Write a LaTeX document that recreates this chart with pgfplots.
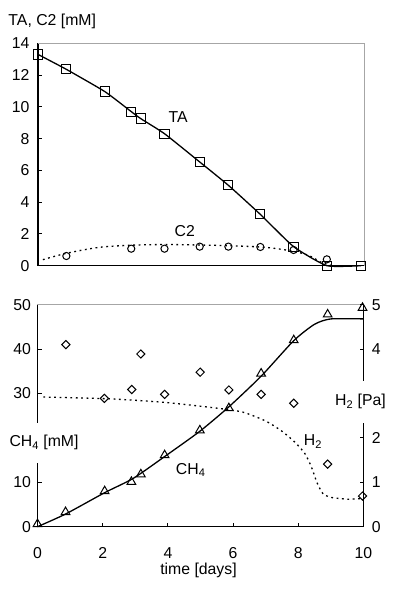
\documentclass[border=0pt]{standalone}
\usepackage{pgfplots}
\pgfplotsset{compat=1.18}
\usepackage{fontspec}
\setmainfont{Liberation Sans}
\begin{document}
\fontsize{15.8}{18}\selectfont
\begin{tikzpicture}[x=1pt,y=1pt]
\useasboundingbox (0,0) rectangle (400,595);
\pgfplotsset{
  every axis/.append style={font=\fontsize{15.8}{18}\selectfont},
  tick label style={font=\fontsize{15.8}{18}\selectfont},
  /pgf/number format/assume math mode=true,
  myax/.style={
    scale only axis, width=326pt, height=222.4pt,
    xmin=0, xmax=10,
    tick align=inside, major tick length=4pt,
    tick style={line width=0.9pt, black},
    axis line style={-, line width=1.2pt},
    clip=false,
  },
}
% ---------- top panel ----------
\begin{axis}[myax,
  at={(38pt,329.3pt)}, anchor=south west,
  ymin=0, ymax=14,
  axis lines*=left,
  xtick=\empty,
  ytick={0,2,...,14},
  yticklabel style={xshift=-3pt},
]
\draw[gray!70, line width=0.7pt] (rel axis cs:0,1) -- (rel axis cs:1,1) -- (rel axis cs:1,0);
\addplot[black, line width=1.3pt, dash pattern=on 1.8pt off 3.6pt, smooth, tension=0.5] coordinates {
 (0.15,0.38) (0.87,0.78) (1.9,1.16) (3,1.3) (4,1.33) (5,1.3) (6,1.25) (7,1.15) (7.8,0.92) (8.3,0.65) (8.7,0.2) (9.0,0.02)
};
\addplot[black, line width=1.3pt, smooth, tension=0.3, mark=square, mark size=4.6pt, mark options={fill=white, line width=1pt, solid}] coordinates {
 (0,13.3) (0.87,12.36) (2.05,10.96) (2.86,9.70) (3.15,9.26) (3.88,8.31) (4.96,6.53) (5.84,5.06) (6.82,3.23) (7.84,1.20) (8.86,0) (9.91,0)
};
\addplot[black, only marks, mark=o, mark size=3.6pt, mark options={fill=white, line width=1pt}] coordinates {
 (0.87,0.61) (2.86,1.07) (3.88,1.07) (4.96,1.20) (5.84,1.20) (6.82,1.18) (7.84,0.99) (8.86,0.40)
};
\node at (axis cs:4.3,9.35) {TA};
\node at (axis cs:4.5,2.15) {C2};
\end{axis}
% ---------- bottom panel ----------
\begin{axis}[myax,
  at={(37.5pt,68.3pt)}, anchor=south west,
  height=222pt,
  ymin=0, ymax=50,
  axis lines*=left,
  xtick={0,2,...,10},
  ytick={0,10,30,40,50},
  xticklabel style={yshift=-15pt},
  yticklabel style={xshift=-1pt},
]
\draw[gray!70, line width=0.7pt] (rel axis cs:0,1) -- (rel axis cs:1,1);
\addplot[black, line width=1.3pt, smooth, tension=0.4] coordinates {
 (0,0) (0.86,2.85) (2.06,7.66) (2.94,10.9) (3.9,15.8) (4.98,21.5) (5.87,27.0) (6.86,33.9) (7.86,41.9) (8.5,45.6) (9.0,46.8) (10,46.8)
};
\addplot[black, only marks, mark=triangle, mark size=5pt, mark options={fill=white, line width=1pt}] coordinates {
 (0,0.6) (0.86,3.3) (2.06,8.0) (2.88,10.1) (3.17,11.8) (3.9,16.1) (4.98,21.7) (5.87,26.7) (6.86,34.5) (7.86,42.0) (8.9,47.8) (9.97,49.3)
};
\node at (axis cs:4.7,12.8) {CH\textsubscript{4}};
\end{axis}
\begin{axis}[myax,
  at={(37.5pt,68.3pt)}, anchor=south west,
  height=222pt,
  ymin=0, ymax=5,
  axis y line*=right, axis x line=none,
  ytick={0,1,2,4,5},
  yticklabel style={xshift=3pt},
]
\addplot[black, line width=1.3pt, dash pattern=on 1.8pt off 3.6pt, smooth, tension=0.4] coordinates {
 (0.18,2.92) (2.2,2.88) (3.9,2.80) (5.5,2.67) (6.3,2.58) (7.0,2.38) (7.5,2.15) (7.9,1.9) (8.2,1.65) (8.4,1.35) (8.57,1.0) (8.75,0.75) (9.0,0.66) (9.5,0.62) (9.9,0.63)
};
\addplot[black, only marks, mark=square, mark size=2.9pt, mark options={fill=white, line width=1pt, rotate=45}] coordinates {
 (0.87,4.10) (2.05,2.89) (2.89,3.09) (3.17,3.89) (3.9,2.98) (4.99,3.48) (5.87,3.08) (6.86,2.98) (7.86,2.78) (8.9,1.41) (9.97,0.69)
};
\node[fill=white, inner sep=1pt] at (axis cs:8.45,1.91) {H\textsubscript{2}};
\end{axis}
% ---------- axis titles ----------
\node[anchor=west, inner sep=0pt] at (8.3,573.3) {TA, C2 [mM]};
\node[fill=white, anchor=west, minimum height=40pt, inner xsep=1pt] at (8.3,152.3) {CH\textsubscript{4} [mM]};
\node[fill=white, anchor=west, minimum height=42pt, inner xsep=1pt] at (334,193.3) {H\textsubscript{2} [Pa]};
\node at (198.5,24.2) {time [days]};
\end{tikzpicture}
\end{document}
